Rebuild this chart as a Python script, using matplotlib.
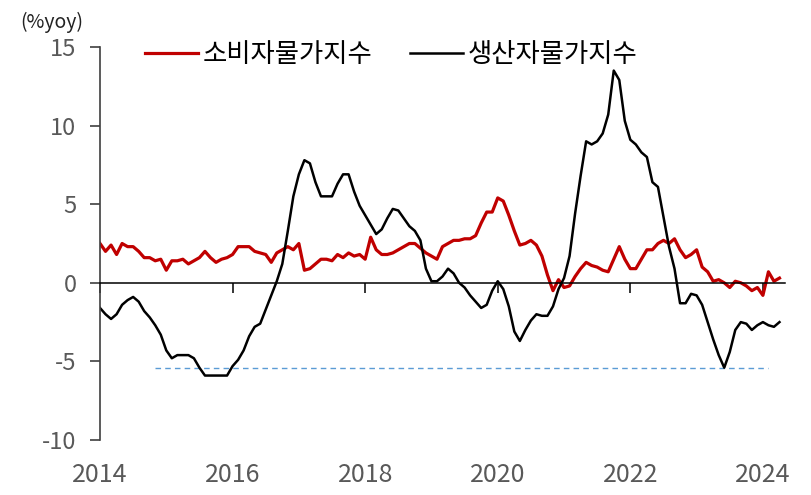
import numpy as np
import matplotlib.pyplot as plt
import matplotlib.transforms as mtransforms

plt.rcParams['font.family'] = ['Noto Sans CJK KR', 'DejaVu Sans']
plt.rcParams['axes.unicode_minus'] = False

# monthly, Jan 2014 - Apr 2024 (%yoy)
cpi = [2.5, 2.0, 2.4, 1.8, 2.5, 2.3, 2.3, 2.0, 1.6, 1.6, 1.4, 1.5,
       0.8, 1.4, 1.4, 1.5, 1.2, 1.4, 1.6, 2.0, 1.6, 1.3, 1.5, 1.6,
       1.8, 2.3, 2.3, 2.3, 2.0, 1.9, 1.8, 1.3, 1.9, 2.1, 2.3, 2.1,
       2.5, 0.8, 0.9, 1.2, 1.5, 1.5, 1.4, 1.8, 1.6, 1.9, 1.7, 1.8,
       1.5, 2.9, 2.1, 1.8, 1.8, 1.9, 2.1, 2.3, 2.5, 2.5, 2.2, 1.9,
       1.7, 1.5, 2.3, 2.5, 2.7, 2.7, 2.8, 2.8, 3.0, 3.8, 4.5, 4.5,
       5.4, 5.2, 4.3, 3.3, 2.4, 2.5, 2.7, 2.4, 1.7, 0.5, -0.5, 0.2,
       -0.3, -0.2, 0.4, 0.9, 1.3, 1.1, 1.0, 0.8, 0.7, 1.5, 2.3, 1.5,
       0.9, 0.9, 1.5, 2.1, 2.1, 2.5, 2.7, 2.5, 2.8, 2.1, 1.6, 1.8,
       2.1, 1.0, 0.7, 0.1, 0.2, 0.0, -0.3, 0.1, 0.0, -0.2, -0.5, -0.3,
       -0.8, 0.7, 0.1, 0.3]
ppi = [-1.6, -2.0, -2.3, -2.0, -1.4, -1.1, -0.9, -1.2, -1.8, -2.2, -2.7, -3.3,
       -4.3, -4.8, -4.6, -4.6, -4.6, -4.8, -5.4, -5.9, -5.9, -5.9, -5.9, -5.9,
       -5.3, -4.9, -4.3, -3.4, -2.8, -2.6, -1.7, -0.8, 0.1, 1.2, 3.3, 5.5,
       6.9, 7.8, 7.6, 6.4, 5.5, 5.5, 5.5, 6.3, 6.9, 6.9, 5.8, 4.9,
       4.3, 3.7, 3.1, 3.4, 4.1, 4.7, 4.6, 4.1, 3.6, 3.3, 2.7, 0.9,
       0.1, 0.1, 0.4, 0.9, 0.6, 0.0, -0.3, -0.8, -1.2, -1.6, -1.4, -0.5,
       0.1, -0.4, -1.5, -3.1, -3.7, -3.0, -2.4, -2.0, -2.1, -2.1, -1.5, -0.4,
       0.3, 1.7, 4.4, 6.8, 9.0, 8.8, 9.0, 9.5, 10.7, 13.5, 12.9, 10.3,
       9.1, 8.8, 8.3, 8.0, 6.4, 6.1, 4.2, 2.3, 0.9, -1.3, -1.3, -0.7,
       -0.8, -1.4, -2.5, -3.6, -4.6, -5.4, -4.4, -3.0, -2.5, -2.6, -3.0, -2.7,
       -2.5, -2.7, -2.8, -2.5]
years = [2014, 2016, 2018, 2020, 2022, 2024]
yticks = [15, 10, 5, 0, -5, -10]
ref_level = -5.4           # 2015 / 2023 PPI low
ref_span = (2014 + 10/12, 2024 + 1/12)

x = 2014 + np.arange(len(cpi)) / 12

fig = plt.figure(figsize=(8.11, 4.95), dpi=100)
ax = fig.add_axes([100/811, 55/495, 685/811, 393/495])

ax.hlines(ref_level, *ref_span, colors='#5b9bd5', linestyles=(0, (4, 3)), linewidth=1)
l1, = ax.plot(x, cpi, color='#c00000', lw=2.3, label='소비자물가지수')
l2, = ax.plot(x, ppi, color='black', lw=1.8, label='생산자물가지수')

ax.set_xlim(2014, 2024 + 4/12)
ax.set_ylim(-10, 15)

for s in ['top', 'right']:
    ax.spines[s].set_visible(False)
ax.spines['left'].set_color('#404040')
ax.spines['left'].set_linewidth(1.2)
ax.spines['bottom'].set_position(('data', 0))
ax.spines['bottom'].set_linewidth(1.1)

ax.set_yticks(yticks)
ax.tick_params(axis='y', length=7, width=1.2, color='#404040', pad=10,
               labelsize=17, labelcolor='#595959')
ax.set_xticks(years)
ax.tick_params(axis='x', length=7, width=1.1, direction='out', labelbottom=False)

trans = mtransforms.blended_transform_factory(ax.transData, ax.transAxes)
for yr in years:
    ax.text(yr, -0.09, str(yr), transform=trans, ha='center', va='center',
            fontsize=18, color='#595959')

fig.text(20/811, 1 - 22/495, '(%yoy)', fontsize=14, color='#222222', va='center')

fig.legend(handles=[l1, l2], loc='center left', bbox_to_anchor=(145/811, 1 - 55/495),
           ncol=2, frameon=False, fontsize=19, handlelength=2.0, handletextpad=0.2,
           columnspacing=1.4, borderaxespad=0, borderpad=0)

fig.savefig('out.png', dpi=100)
